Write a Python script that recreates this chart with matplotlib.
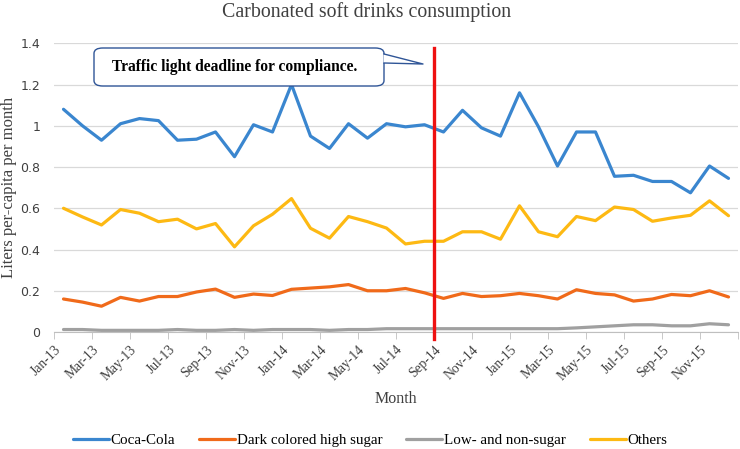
import numpy as np
import matplotlib
matplotlib.use("Agg")
import matplotlib.pyplot as plt
from matplotlib.patches import FancyBboxPatch, Polygon
from matplotlib.lines import Line2D
from matplotlib.ticker import FuncFormatter

# monthly consumption, Jan-13 .. Dec-15 (liters per capita per month)
months = [f"{m}-{y}" for y in ("13", "14", "15")
          for m in ("Jan", "Feb", "Mar", "Apr", "May", "Jun",
                    "Jul", "Aug", "Sep", "Oct", "Nov", "Dec")]
coca_cola = [1.08, 1.00, 0.93, 1.01, 1.035, 1.025, 0.93, 0.935, 0.97, 0.85, 1.005, 0.97,
             1.20, 0.95, 0.89, 1.01, 0.94, 1.01, 0.995, 1.005, 0.97, 1.075, 0.99, 0.95,
             1.16, 0.995, 0.805, 0.97, 0.97, 0.755, 0.76, 0.73, 0.73, 0.675, 0.805, 0.745]
dark_high_sugar = [0.16, 0.145, 0.125, 0.168, 0.15, 0.172, 0.172, 0.194, 0.208, 0.168, 0.184, 0.177,
                   0.207, 0.213, 0.219, 0.23, 0.2, 0.2, 0.211, 0.19, 0.163, 0.187, 0.172, 0.176,
                   0.187, 0.176, 0.16, 0.205, 0.187, 0.18, 0.15, 0.16, 0.182, 0.176, 0.2, 0.17]
low_non_sugar = [0.012, 0.012, 0.008, 0.008, 0.008, 0.008, 0.012, 0.008, 0.008, 0.012, 0.008, 0.012,
                 0.012, 0.012, 0.008, 0.012, 0.012, 0.016, 0.016, 0.016, 0.016, 0.016, 0.016, 0.016,
                 0.016, 0.016, 0.016, 0.02, 0.025, 0.03, 0.035, 0.035, 0.03, 0.03, 0.04, 0.035]
others = [0.60, 0.558, 0.519, 0.594, 0.576, 0.535, 0.547, 0.50, 0.526, 0.413, 0.515, 0.571,
          0.647, 0.503, 0.455, 0.56, 0.535, 0.504, 0.427, 0.44, 0.44, 0.486, 0.486, 0.45,
          0.612, 0.486, 0.462, 0.56, 0.54, 0.606, 0.594, 0.537, 0.553, 0.566, 0.636, 0.564]
series = [("Coca-Cola", coca_cola, "#3a86cf"),
          ("Dark colored high sugar", dark_high_sugar, "#f06a1a"),
          ("Low- and non-sugar", low_non_sugar, "#a0a0a0"),
          ("Others", others, "#fdb913")]
deadline = 19.5  # between Aug-14 and Sep-14

W, H = 740, 449
SERIF = ["Liberation Serif", "DejaVu Serif"]
def fx(px): return px / W
def fy(py): return 1 - py / H

fig = plt.figure(figsize=(W / 100, H / 100), dpi=100)
ax = fig.add_axes([fx(54), fy(332), 684 / W, 288.7 / H])

x = np.arange(len(months))
for name, vals, col in series:
    ax.plot(x, vals, color=col, lw=2.3, label=name, solid_capstyle="round")

ax.plot([deadline, deadline], [-0.034, 1.377], color="#ee1111", lw=2.4, clip_on=False, zorder=5)

ax.set_xlim(-0.5, len(months) - 0.5)
ax.set_ylim(0, 1.4)
ax.set_yticks(np.arange(0, 1.41, 0.2))
ax.yaxis.set_major_formatter(FuncFormatter(lambda v, p: f"{v:.1f}".rstrip("0").rstrip(".")))
ax.tick_params(axis="y", length=0, pad=10, labelsize=9, labelcolor="#404040")
ax.grid(axis="y", color="#d9d9d9", lw=0.9)
ax.set_axisbelow(True)
for s in ("top", "right", "left"):
    ax.spines[s].set_visible(False)
ax.spines["bottom"].set_color("#bfbfbf")

ax.set_xticks(x[::2])
ax.set_xticklabels(months[::2], rotation=45, ha="right", fontfamily=SERIF, fontsize=9.8, color="#404040")
ax.tick_params(axis="x", which="major", length=0, pad=8)
ax.set_xticks(np.arange(-0.5, len(months), 2), minor=True)
ax.tick_params(axis="x", which="minor", length=5, color="#bfbfbf")

fig.text(fx(367), fy(12), "Carbonated soft drinks consumption", ha="center", va="center",
         fontfamily=SERIF, fontsize=14.3, color="#404040")
fig.text(fx(9), fy(187), "Liters per-capita per month", rotation=90, ha="center", va="center",
         fontfamily=SERIF, fontsize=12, color="#404040")
ax.set_xlabel("Month", fontfamily=SERIF, fontsize=11.5, color="#404040", labelpad=6)

fig.legend(loc="center", bbox_to_anchor=(0.5, fy(440)), ncol=4, frameon=False,
           prop={"family": SERIF, "size": 10.8}, handlelength=2.4, handletextpad=0.1,
           columnspacing=1.6)

# callout box
edge = "#2f5597"
box = FancyBboxPatch((fx(94), fy(86)), fx(384) - fx(94), fy(48) - fy(86),
                     boxstyle="round,pad=0,rounding_size=0.012", transform=fig.transFigure,
                     facecolor="white", edgecolor=edge, lw=1.0, zorder=10)
fig.add_artist(box)
tail = Polygon([(fx(383.5), fy(54)), (fx(423), fy(64)), (fx(383.5), fy(63))], closed=True,
               transform=fig.transFigure, facecolor="white", edgecolor="none", zorder=11)
fig.add_artist(tail)
fig.add_artist(Line2D([fx(384), fx(423), fx(384)], [fy(54), fy(64), fy(63)],
                      transform=fig.transFigure, color=edge, lw=1.0, zorder=12))
fig.text(fx(235), fy(67), "Traffic light deadline for compliance.", ha="center", va="center",
         fontfamily=SERIF, fontweight="bold", fontsize=11.2, zorder=13)

fig.savefig("out.png", dpi=100)
